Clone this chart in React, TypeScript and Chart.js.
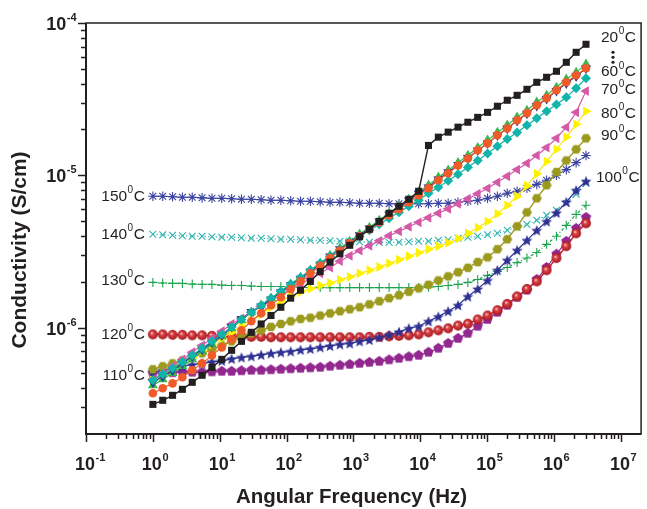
import React, { useEffect, useRef } from "react";
import { Chart, registerables } from "chart.js";

Chart.register(...registerables);

const FONT = '"Liberation Sans", Arial, Helvetica, sans-serif';
const INK = "#231F20";

// Angular frequency (Hz)
const freqHz = [1, 1.404, 1.97, 2.765, 3.88, 5.445, 7.642, 10.72, 15.05, 21.12, 29.65, 41.61, 58.39, 81.95, 115.0, 161.4, 226.5, 317.9, 446.2, 626.2, 879.0, 1234, 1731, 2430, 3410, 4786, 6717, 9428, 13230, 18570, 26060, 36580, 51340, 72060, 101100, 141900, 199200, 279600, 392400, 550700, 772700, 1084000, 1522000, 2136000, 3000000];

// Conductivity (S/cm) per temperature
const sigma20C = [3.13e-7, 3.33e-7, 3.59e-7, 3.93e-7, 4.37e-7, 4.86e-7, 5.48e-7, 6.18e-7, 7.09e-7, 8.12e-7, 9.30e-7, 1.056e-6, 1.20e-6, 1.36e-6, 1.56e-6, 1.76e-6, 2.01e-6, 2.33e-6, 2.69e-6, 3.05e-6, 3.47e-6, 3.95e-6, 4.42e-6, 4.98e-6, 5.63e-6, 6.26e-6, 6.96e-6, 7.85e-6, 1.57e-5, 1.78e-5, 1.92e-5, 2.07e-5, 2.23e-5, 2.40e-5, 2.59e-5, 2.84e-5, 3.11e-5, 3.35e-5, 3.67e-5, 4.08e-5, 4.40e-5, 4.82e-5, 5.52e-5, 6.42e-5, 7.25e-5];
const sigma30C = [3.70e-7, 3.99e-7, 4.30e-7, 4.72e-7, 5.24e-7, 5.82e-7, 6.57e-7, 7.41e-7, 8.37e-7, 9.59e-7, 1.10e-6, 1.24e-6, 1.40e-6, 1.58e-6, 1.79e-6, 2.01e-6, 2.27e-6, 2.54e-6, 2.86e-6, 3.20e-6, 3.58e-6, 3.98e-6, 4.42e-6, 4.91e-6, 5.46e-6, 5.98e-6, 6.65e-6, 7.39e-6, 8.21e-6, 9.27e-6, 1.03e-5, 1.16e-5, 1.29e-5, 1.46e-5, 1.62e-5, 1.83e-5, 2.03e-5, 2.30e-5, 2.56e-5, 2.88e-5, 3.21e-5, 3.62e-5, 4.08e-5, 4.54e-5, 5.04e-5];
const sigma40C = [4.17e-7, 4.57e-7, 5.01e-7, 5.57e-7, 6.18e-7, 6.98e-7, 7.76e-7, 8.76e-7, 9.88e-7, 1.12e-6, 1.26e-6, 1.40e-6, 1.56e-6, 1.73e-6, 1.93e-6, 2.13e-6, 2.38e-6, 2.64e-6, 2.98e-6, 3.32e-6, 3.68e-6, 4.10e-6, 4.55e-6, 5.06e-6, 5.63e-6, 6.26e-6, 6.95e-6, 7.73e-6, 8.60e-6, 9.70e-6, 1.08e-5, 1.21e-5, 1.35e-5, 1.52e-5, 1.70e-5, 1.91e-5, 2.13e-5, 2.41e-5, 2.67e-5, 3.02e-5, 3.35e-5, 3.78e-5, 4.27e-5, 4.74e-5, 5.36e-5];
const sigma50C = [4.37e-7, 4.79e-7, 5.24e-7, 5.82e-7, 6.47e-7, 7.20e-7, 7.99e-7, 8.89e-7, 1.01e-6, 1.14e-6, 1.27e-6, 1.38e-6, 1.53e-6, 1.71e-6, 1.90e-6, 2.10e-6, 2.34e-6, 2.60e-6, 2.94e-6, 3.27e-6, 3.63e-6, 4.04e-6, 4.48e-6, 4.98e-6, 5.54e-6, 6.16e-6, 6.85e-6, 7.62e-6, 8.34e-6, 9.41e-6, 1.05e-5, 1.17e-5, 1.30e-5, 1.46e-5, 1.62e-5, 1.83e-5, 2.03e-5, 2.28e-5, 2.54e-5, 2.86e-5, 3.18e-5, 3.59e-5, 4.02e-5, 4.47e-5, 5.04e-5];
const sigma60C = [4.50e-7, 4.93e-7, 5.40e-7, 5.95e-7, 6.57e-7, 7.31e-7, 8.12e-7, 9.03e-7, 1.01e-6, 1.13e-6, 1.26e-6, 1.40e-6, 1.56e-6, 1.73e-6, 1.93e-6, 2.13e-6, 2.38e-6, 2.64e-6, 2.94e-6, 3.27e-6, 3.60e-6, 3.98e-6, 4.35e-6, 4.76e-6, 5.22e-6, 5.71e-6, 6.26e-6, 6.85e-6, 7.62e-6, 8.34e-6, 9.20e-6, 1.015e-5, 1.13e-5, 1.25e-5, 1.39e-5, 1.55e-5, 1.73e-5, 1.91e-5, 2.13e-5, 2.37e-5, 2.63e-5, 2.92e-5, 3.25e-5, 3.73e-5, 4.34e-5];
const sigma70C = [4.57e-7, 5.01e-7, 5.57e-7, 6.18e-7, 6.88e-7, 7.64e-7, 8.49e-7, 9.45e-7, 1.056e-6, 1.15e-6, 1.26e-6, 1.38e-6, 1.50e-6, 1.63e-6, 1.77e-6, 1.93e-6, 2.09e-6, 2.27e-6, 2.48e-6, 2.73e-6, 2.96e-6, 3.20e-6, 3.44e-6, 3.71e-6, 4.01e-6, 4.28e-6, 4.59e-6, 4.91e-6, 5.26e-6, 5.63e-6, 6.02e-6, 6.49e-6, 7.01e-6, 7.56e-6, 8.21e-6, 8.99e-6, 9.85e-6, 1.09e-5, 1.20e-5, 1.35e-5, 1.52e-5, 1.75e-5, 2.07e-5, 2.59e-5, 3.57e-5];
const sigma80C = [4.50e-7, 4.86e-7, 5.32e-7, 5.82e-7, 6.37e-7, 7.04e-7, 7.76e-7, 8.49e-7, 9.30e-7, 1.024e-6, 1.12e-6, 1.22e-6, 1.36e-6, 1.49e-6, 1.61e-6, 1.71e-6, 1.80e-6, 1.89e-6, 1.96e-6, 2.06e-6, 2.15e-6, 2.27e-6, 2.38e-6, 2.50e-6, 2.64e-6, 2.79e-6, 2.94e-6, 3.10e-6, 3.27e-6, 3.42e-6, 3.60e-6, 3.83e-6, 4.16e-6, 4.52e-6, 4.98e-6, 5.58e-6, 6.35e-6, 7.28e-6, 8.54e-6, 1.023e-5, 1.23e-5, 1.48e-5, 1.78e-5, 2.16e-5, 2.63e-5];
const sigma90C = [5.32e-7, 5.57e-7, 5.82e-7, 6.09e-7, 6.37e-7, 6.77e-7, 7.20e-7, 7.64e-7, 8.12e-7, 8.63e-7, 9.16e-7, 9.59e-7, 1.01e-6, 1.056e-6, 1.10e-6, 1.14e-6, 1.16e-6, 1.20e-6, 1.24e-6, 1.28e-6, 1.32e-6, 1.36e-6, 1.42e-6, 1.49e-6, 1.56e-6, 1.63e-6, 1.72e-6, 1.81e-6, 1.91e-6, 2.04e-6, 2.17e-6, 2.31e-6, 2.47e-6, 2.69e-6, 2.89e-6, 3.27e-6, 3.80e-6, 4.62e-6, 5.71e-6, 7.06e-6, 8.60e-6, 1.05e-5, 1.25e-5, 1.48e-5, 1.75e-5];
const sigma100C = [5.09e-7, 5.24e-7, 5.40e-7, 5.57e-7, 5.70e-7, 5.82e-7, 5.96e-7, 6.05e-7, 6.23e-7, 6.37e-7, 6.47e-7, 6.62e-7, 6.77e-7, 6.88e-7, 6.98e-7, 7.14e-7, 7.25e-7, 7.42e-7, 7.58e-7, 7.76e-7, 7.87e-7, 8.12e-7, 8.30e-7, 8.63e-7, 8.96e-7, 9.37e-7, 9.88e-7, 1.02e-6, 1.10e-6, 1.18e-6, 1.28e-6, 1.40e-6, 1.60e-6, 1.79e-6, 2.04e-6, 2.38e-6, 2.77e-6, 3.22e-6, 3.74e-6, 4.35e-6, 4.98e-6, 5.67e-6, 6.67e-6, 7.97e-6, 9.13e-6];
const sigma110C = [5.01e-7, 5.01e-7, 5.05e-7, 5.09e-7, 5.09e-7, 5.09e-7, 5.12e-7, 5.16e-7, 5.16e-7, 5.20e-7, 5.24e-7, 5.24e-7, 5.28e-7, 5.32e-7, 5.36e-7, 5.40e-7, 5.44e-7, 5.48e-7, 5.57e-7, 5.65e-7, 5.73e-7, 5.82e-7, 5.91e-7, 6.00e-7, 6.14e-7, 6.28e-7, 6.43e-7, 6.57e-7, 6.88e-7, 7.31e-7, 7.87e-7, 8.49e-7, 9.16e-7, 1.02e-6, 1.13e-6, 1.26e-6, 1.40e-6, 1.58e-6, 1.76e-6, 2.07e-6, 2.48e-6, 3.03e-6, 3.68e-6, 4.48e-6, 5.29e-6];
const sigma120C = [9.02e-7, 9.02e-7, 8.96e-7, 8.96e-7, 8.89e-7, 8.89e-7, 8.82e-7, 8.82e-7, 8.76e-7, 8.76e-7, 8.69e-7, 8.69e-7, 8.63e-7, 8.63e-7, 8.63e-7, 8.63e-7, 8.63e-7, 8.63e-7, 8.63e-7, 8.63e-7, 8.63e-7, 8.63e-7, 8.69e-7, 8.69e-7, 8.76e-7, 8.82e-7, 8.89e-7, 9.02e-7, 9.30e-7, 9.59e-7, 9.88e-7, 1.03e-6, 1.06e-6, 1.13e-6, 1.20e-6, 1.30e-6, 1.43e-6, 1.60e-6, 1.79e-6, 2.01e-6, 2.38e-6, 2.86e-6, 3.42e-6, 4.16e-6, 4.84e-6];
const sigma130C = [1.98e-6, 1.96e-6, 1.95e-6, 1.95e-6, 1.93e-6, 1.92e-6, 1.92e-6, 1.90e-6, 1.89e-6, 1.89e-6, 1.87e-6, 1.86e-6, 1.86e-6, 1.86e-6, 1.84e-6, 1.84e-6, 1.83e-6, 1.83e-6, 1.83e-6, 1.83e-6, 1.83e-6, 1.83e-6, 1.83e-6, 1.83e-6, 1.83e-6, 1.83e-6, 1.83e-6, 1.83e-6, 1.84e-6, 1.86e-6, 1.89e-6, 1.92e-6, 1.98e-6, 2.07e-6, 2.20e-6, 2.34e-6, 2.48e-6, 2.67e-6, 2.86e-6, 3.11e-6, 3.52e-6, 3.98e-6, 4.69e-6, 5.54e-6, 6.35e-6];
const sigma140C = [4.10e-6, 4.07e-6, 4.04e-6, 4.01e-6, 3.98e-6, 3.98e-6, 3.95e-6, 3.92e-6, 3.92e-6, 3.89e-6, 3.86e-6, 3.86e-6, 3.83e-6, 3.80e-6, 3.80e-6, 3.77e-6, 3.74e-6, 3.74e-6, 3.72e-6, 3.69e-6, 3.69e-6, 3.66e-6, 3.63e-6, 3.63e-6, 3.63e-6, 3.63e-6, 3.66e-6, 3.69e-6, 3.69e-6, 3.74e-6, 3.77e-6, 3.86e-6, 3.92e-6, 3.98e-6, 4.07e-6, 4.16e-6, 4.35e-6, 4.55e-6, 4.76e-6, 5.06e-6, 5.46e-6, 5.89e-6, 6.55e-6, 7.50e-6, 8.86e-6];
const sigma150C = [7.28e-6, 7.28e-6, 7.22e-6, 7.17e-6, 7.17e-6, 7.11e-6, 7.06e-6, 7.06e-6, 7.01e-6, 6.96e-6, 6.96e-6, 6.90e-6, 6.85e-6, 6.85e-6, 6.80e-6, 6.75e-6, 6.75e-6, 6.70e-6, 6.65e-6, 6.65e-6, 6.60e-6, 6.55e-6, 6.55e-6, 6.55e-6, 6.50e-6, 6.50e-6, 6.50e-6, 6.50e-6, 6.50e-6, 6.55e-6, 6.55e-6, 6.65e-6, 6.75e-6, 6.85e-6, 7.06e-6, 7.28e-6, 7.62e-6, 7.85e-6, 8.21e-6, 8.72e-6, 9.27e-6, 1.00e-5, 1.09e-5, 1.21e-5, 1.35e-5];

const xDecades = [-1, 0, 1, 2, 3, 4, 5, 6, 7];
const yDecades = [-6, -5, -4];
const leftLabelTemps = ["150", "140", "130", "120", "110"];
const rightLabelTemps = ["20", "60", "70", "80", "90", "100"];

function polyImage(color: string, r: number, n: number, startAngle: number) {
  const s = Math.ceil(2 * r + 2);
  const c = document.createElement("canvas");
  c.width = s;
  c.height = s;
  const g = c.getContext("2d")!;
  g.beginPath();
  for (let k = 0; k < n; k++) {
    const a = startAngle + (k * 2 * Math.PI) / n;
    const px = s / 2 + r * Math.cos(a);
    const py = s / 2 + r * Math.sin(a);
    if (k === 0) g.moveTo(px, py);
    else g.lineTo(px, py);
  }
  g.closePath();
  g.fillStyle = color;
  g.fill();
  return c;
}

function starImage(color: string, r: number) {
  const s = Math.ceil(2 * r + 2);
  const c = document.createElement("canvas");
  c.width = s;
  c.height = s;
  const g = c.getContext("2d")!;
  g.beginPath();
  for (let k = 0; k < 10; k++) {
    const rr = k % 2 === 0 ? r : r * 0.45;
    const a = -Math.PI / 2 + (k * Math.PI) / 5;
    const px = s / 2 + rr * Math.cos(a);
    const py = s / 2 + 0.5 + rr * Math.sin(a);
    if (k === 0) g.moveTo(px, py);
    else g.lineTo(px, py);
  }
  g.closePath();
  g.fillStyle = color;
  g.fill();
  return c;
}

function ballImage(r: number) {
  const s = Math.ceil(2 * r + 2);
  const c = document.createElement("canvas");
  c.width = s;
  c.height = s;
  const g = c.getContext("2d")!;
  const cx = s / 2;
  const grad = g.createRadialGradient(cx - 1.2, cx - 1.5, 0.3, cx, cx, r);
  grad.addColorStop(0, "#FBD3CF");
  grad.addColorStop(0.3, "#E0464A");
  grad.addColorStop(1, "#A3161C");
  g.beginPath();
  g.arc(cx, cx, r, 0, Math.PI * 2);
  g.fillStyle = grad;
  g.fill();
  return c;
}

function supText(
  ctx: CanvasRenderingContext2D,
  x: number,
  y: number,
  base: string,
  sup: string,
  tail: string,
  size: number,
  supSize: number,
  raise: number,
  weight: string,
  align: string
) {
  ctx.font = `${weight} ${size}px ${FONT}`;
  const wb = ctx.measureText(base).width;
  const wt = tail ? ctx.measureText(tail).width : 0;
  ctx.font = `${weight} ${supSize}px ${FONT}`;
  const ws = ctx.measureText(sup).width;
  const total = wb + ws + wt + 1;
  let x0 = x;
  if (align === "right") x0 = x - total;
  else if (align === "centerBase") x0 = x - wb / 2;
  ctx.textAlign = "left";
  ctx.textBaseline = "middle";
  ctx.font = `${weight} ${size}px ${FONT}`;
  ctx.fillText(base, x0, y);
  ctx.font = `${weight} ${supSize}px ${FONT}`;
  ctx.fillText(sup, x0 + wb + 0.5, y - raise);
  if (tail) {
    ctx.font = `${weight} ${size}px ${FONT}`;
    ctx.fillText(tail, x0 + wb + ws + 1, y);
  }
}

export default function App() {
  const ref = useRef<HTMLCanvasElement>(null);

  useEffect(() => {
    const canvas = ref.current;
    if (!canvas) return;

    const series = [
      { key: "20", values: sigma20C, color: "#231F20", fill: "#231F20", style: "rect" as any, radius: 5, rot: 0, lw: 1.4, pbw: 0, dash: [] as number[] },
      { key: "30", values: sigma30C, color: "#F15A29", fill: "#F15A29", style: "circle" as any, radius: 4.3, rot: 0, lw: 1.2, pbw: 0, dash: [] },
      { key: "60", values: sigma60C, color: "#12B3A8", fill: "#12B3A8", style: "rectRot" as any, radius: 5, rot: 0, lw: 1.2, pbw: 0, dash: [] },
      { key: "50", values: sigma50C, color: "#2E3192", fill: "#2E3192", style: "triangle" as any, radius: 5.7, rot: 180, lw: 1.2, pbw: 0, dash: [] },
      { key: "40", values: sigma40C, color: "#3CB54A", fill: "#3CB54A", style: "triangle" as any, radius: 5.7, rot: 0, lw: 1.2, pbw: 0, dash: [] },
      { key: "70", values: sigma70C, color: "#D45AA8", fill: "#D45AA8", style: "triangle" as any, radius: 5.7, rot: 270, lw: 1.2, pbw: 0, dash: [] },
      { key: "80", values: sigma80C, color: "#F5E61A", fill: "#FFF200", style: "triangle" as any, radius: 5.7, rot: 90, lw: 1.2, pbw: 0, dash: [] },
      { key: "90", values: sigma90C, color: "#9C9A1E", fill: "#9C9A1E", style: polyImage("#9C9A1E", 5, 6, 0) as any, radius: 5, rot: 0, lw: 1.4, pbw: 0, dash: [] },
      { key: "100", values: sigma100C, color: "#2E3192", fill: "#2E3192", style: starImage("#2E3192", 5.8) as any, radius: 5, rot: 0, lw: 1.2, pbw: 0, dash: [] },
      { key: "120", values: sigma120C, color: "#C6262E", fill: "#C6262E", style: ballImage(4.9) as any, radius: 4.9, rot: 0, lw: 1.4, pbw: 0, dash: [] },
      { key: "110", values: sigma110C, color: "#92278F", fill: "#92278F", style: polyImage("#92278F", 5.4, 5, -Math.PI / 2) as any, radius: 5.4, rot: 0, lw: 1.2, pbw: 0, dash: [] },
      { key: "130", values: sigma130C, color: "#1BA34E", fill: "#1BA34E", style: "cross" as any, radius: 4.5, rot: 0, lw: 1.2, pbw: 1.1, dash: [3, 2, 1, 2] },
      { key: "140", values: sigma140C, color: "#2DB3AE", fill: "#2DB3AE", style: "crossRot" as any, radius: 4.8, rot: 0, lw: 1.2, pbw: 1.1, dash: [1.2, 2.5] },
      { key: "150", values: sigma150C, color: "#3A43A0", fill: "#3A43A0", style: "star" as any, radius: 4.8, rot: 0, lw: 1.0, pbw: 1.1, dash: [] },
    ];

    const byKey: Record<string, number[]> = {};
    series.forEach((s) => (byKey[s.key] = s.values));

    const rightOffsets: Record<string, [number, number]> = {
      "20": [15, -7],
      "60": [15, -6],
      "70": [15, -1],
      "80": [15, 2],
      "90": [15, -3],
      "100": [10, -4],
    };

    const decor = {
      id: "decor",
      afterDatasetsDraw(chart: any) {
        const ctx: CanvasRenderingContext2D = chart.ctx;
        const ca = chart.chartArea;
        const xs = chart.scales.x;
        const ys = chart.scales.y;
        ctx.save();
        ctx.strokeStyle = INK;
        ctx.fillStyle = INK;
        // frame
        ctx.lineWidth = 1.5;
        ctx.strokeRect(ca.left, ca.top, ca.right - ca.left, ca.bottom - ca.top);
        ctx.lineWidth = 2;
        ctx.beginPath();
        ctx.moveTo(ca.left, ca.top);
        ctx.lineTo(ca.left, ca.bottom);
        ctx.lineTo(ca.right, ca.bottom);
        ctx.stroke();
        // ticks
        ctx.lineWidth = 1.5;
        ctx.beginPath();
        for (let e = -1; e <= 7; e++) {
          for (let m = 1; m <= 9; m++) {
            const v = m * Math.pow(10, e);
            if (v < xs.min * 0.999 || v > xs.max * 0.999) continue;
            const px = Math.round(xs.getPixelForValue(v)) + 0.5;
            const len = m === 1 ? 8 : 5;
            ctx.moveTo(px, ca.bottom);
            ctx.lineTo(px, ca.bottom + len);
          }
        }
        for (let e = -7; e <= -4; e++) {
          for (let m = 1; m <= 9; m++) {
            const v = m * Math.pow(10, e);
            if (v < ys.min * 1.001 || v > ys.max * 1.001) continue;
            const py = Math.round(ys.getPixelForValue(v)) + 0.5;
            const len = m === 1 ? 8 : 5;
            ctx.moveTo(ca.left, py);
            ctx.lineTo(ca.left - len, py);
          }
        }
        ctx.stroke();
        // tick labels
        xDecades.forEach((e) => {
          const px = xs.getPixelForValue(Math.pow(10, e));
          supText(ctx, px - 1, ca.bottom + 31, "10", e < 0 ? "-" + Math.abs(e) : String(e), "", 18, 11, 7, "bold", "centerBase");
        });
        yDecades.forEach((e) => {
          const py = ys.getPixelForValue(Math.pow(10, e));
          supText(ctx, ca.left - 9, py + 2, "10", "-" + Math.abs(e), "", 18, 11, 7, "bold", "right");
        });
        // axis titles
        ctx.textAlign = "center";
        ctx.textBaseline = "middle";
        ctx.font = `bold 20.5px ${FONT}`;
        ctx.fillText("Angular Frequency (Hz)", (ca.left + ca.right) / 2 - 12, ca.bottom + 63);
        ctx.save();
        ctx.translate(20, 250);
        ctx.rotate(-Math.PI / 2);
        ctx.font = `bold 21px ${FONT}`;
        ctx.fillText("Conductivity (S/cm)", 0, 0);
        ctx.restore();
        // left temperature labels
        leftLabelTemps.forEach((t) => {
          const vals = byKey[t];
          const px = xs.getPixelForValue(freqHz[0]) - 8;
          const py = ys.getPixelForValue(vals[0]);
          supText(ctx, px, py + (t === "130" ? -2 : t === "110" ? 2 : 0), t, "0", "C", 15.5, 10, 6, "normal", "right");
        });
        // right temperature labels
        rightLabelTemps.forEach((t) => {
          const vals = byKey[t];
          const n = vals.length - 1;
          const [dx, dy] = rightOffsets[t];
          const px = xs.getPixelForValue(freqHz[n]) + dx;
          const py = ys.getPixelForValue(vals[n]) + dy;
          supText(ctx, px, py, t, "0", "C", 15.5, 10, 6, "normal", "left");
        });
        // vertical dots between 20 and 60
        const dx0 = xs.getPixelForValue(freqHz[freqHz.length - 1]) + 27;
        const y20 = ys.getPixelForValue(sigma20C[sigma20C.length - 1]) - 7;
        [15, 20, 25].forEach((d) => {
          ctx.beginPath();
          ctx.arc(dx0, y20 + d, 1.6, 0, Math.PI * 2);
          ctx.fill();
        });
        ctx.restore();
      },
    };

    const chart = new Chart(canvas, {
      type: "line",
      data: {
        datasets: series.map((s) => ({
          label: s.key + "°C",
          data: freqHz.map((f, i) => ({ x: f, y: s.values[i] })),
          borderColor: s.color,
          backgroundColor: s.fill,
          borderWidth: s.lw,
          borderDash: s.dash,
          pointStyle: s.style,
          pointRadius: s.radius,
          pointRotation: s.rot,
          pointBackgroundColor: s.fill,
          pointBorderColor: s.color,
          pointBorderWidth: s.pbw,
          tension: 0,
          fill: false,
        })),
      },
      options: {
        animation: false,
        responsive: false,
        devicePixelRatio: 1,
        events: [],
        layout: { padding: { left: 86, right: 2, top: 23, bottom: 75 } },
        plugins: { legend: { display: false }, tooltip: { enabled: false } },
        scales: {
          x: { type: "logarithmic", min: 0.1, max: 2e7, display: false },
          y: { type: "logarithmic", min: 2e-7, max: 1e-4, display: false },
        },
      },
      plugins: [decor],
    } as any);

    return () => chart.destroy();
  }, []);

  return (
    <div style={{ position: "absolute", left: 0, top: 0, width: 647, height: 509, background: "#fff" }}>
      <canvas ref={ref} width={647} height={509} style={{ display: "block", width: 647, height: 509 }} />
    </div>
  );
}
